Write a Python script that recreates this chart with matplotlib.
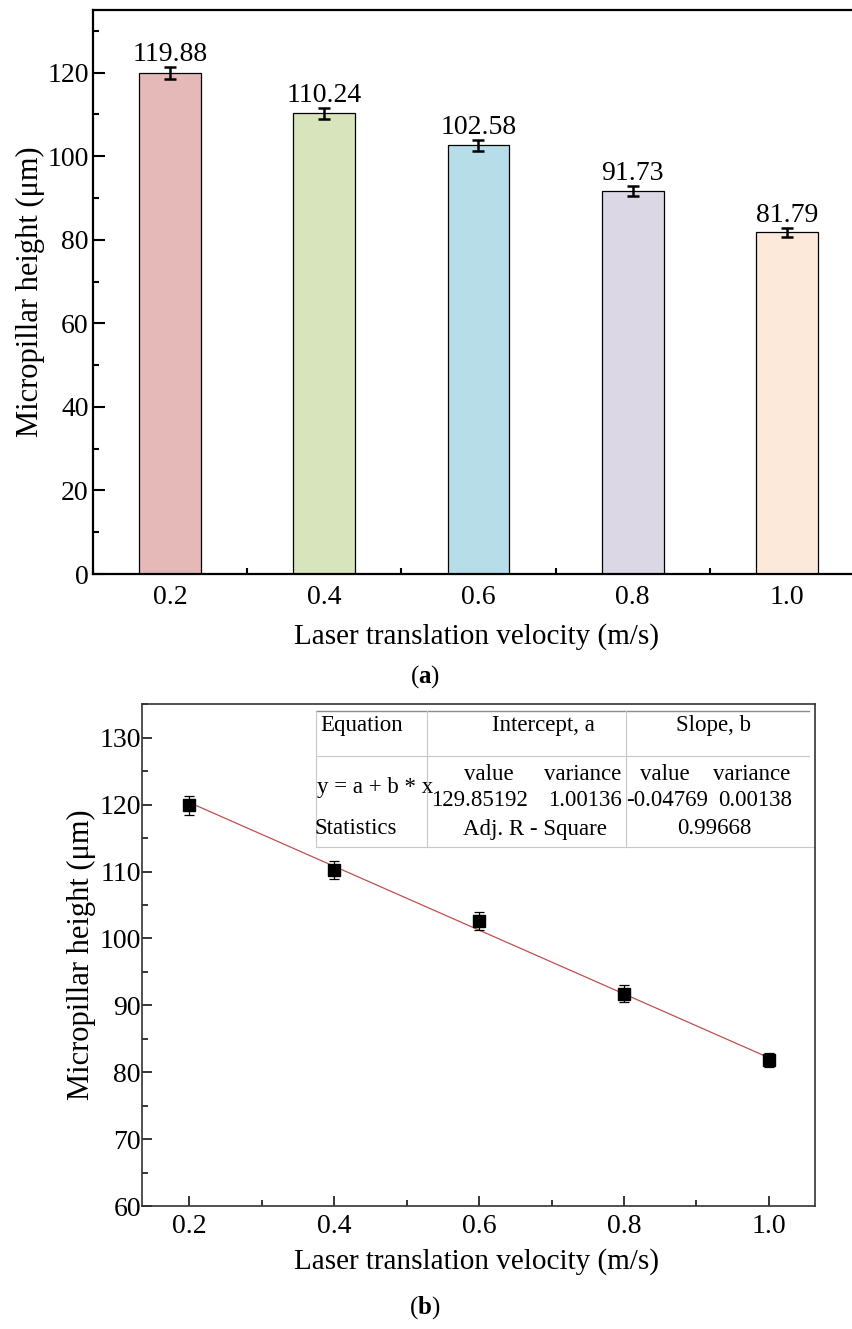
import matplotlib
matplotlib.use("Agg")
import matplotlib.pyplot as plt
import numpy as np
from matplotlib.ticker import MultipleLocator, FormatStrFormatter

plt.rcParams['font.family'] = ['Liberation Serif', 'DejaVu Serif']
plt.rcParams['mathtext.fontset'] = 'custom'
plt.rcParams['mathtext.rm'] = 'Liberation Serif'
plt.rcParams['mathtext.bf'] = 'Liberation Serif:bold'

# ---------------- data ----------------
velocity = [0.2, 0.4, 0.6, 0.8, 1.0]            # m/s
height = [119.88, 110.24, 102.58, 91.73, 81.79]  # um
height_err = [1.4, 1.3, 1.35, 1.25, 1.05]
bar_colors = ['#E5B9B7', '#D8E4BC', '#B7DEE8', '#DCD7E5', '#FCE9DA']

fit_intercept = 129.85192
fit_intercept_var = 1.00136
fit_slope = -0.04769      # per mm/s
fit_slope_var = 0.00138
fit_adj_r2 = 0.99668

fig = plt.figure(figsize=(8.52, 13.29), dpi=100)
W, H = 852, 1329

def axes_px(l, t, r, b):
    return [l / W, 1 - b / H, (r - l) / W, (b - t) / H]

# ---------------- panel (a) ----------------
ax1 = fig.add_axes(axes_px(93, 10, 864, 574))
ax1.bar(velocity, height, width=0.08, color=bar_colors, edgecolor='black',
        linewidth=0.9, zorder=2)
ax1.errorbar(velocity, height, yerr=height_err, fmt='none', ecolor='black',
             elinewidth=1.8, capsize=4, capthick=1.8, zorder=3)
for x, v, e in zip(velocity, height, height_err):
    ax1.annotate(f"{v:.2f}", (x, v + e), xytext=(0, 0), textcoords='offset points',
                 ha='center', va='bottom', fontsize=20)
ax1.set_xlim(0.1, 1.1)
ax1.set_ylim(0, 135)
ax1.xaxis.set_major_locator(MultipleLocator(0.2))
ax1.xaxis.set_minor_locator(MultipleLocator(0.1))
ax1.yaxis.set_major_locator(MultipleLocator(20))
ax1.yaxis.set_minor_locator(MultipleLocator(10))
ax1.set_xticks(velocity)
ax1.xaxis.set_major_formatter(FormatStrFormatter('%.1f'))
ax1.tick_params(axis='both', which='major', direction='in', length=8.5, width=1.5,
                labelsize=20)
ax1.tick_params(axis='both', which='minor', direction='in', length=4, width=1.5)
ax1.tick_params(axis='x', pad=8)
ax1.tick_params(axis='y', pad=3)
for s in ax1.spines.values():
    s.set_linewidth(1.6)
ax1.set_xlabel('Laser translation velocity (m/s)', fontsize=21)
ax1.set_ylabel('Micropillar height (μm)', fontsize=22)
ax1.xaxis.set_label_coords((476 - 93) / (864 - 93), (574 - 637) / 564)
ax1.xaxis.label.set_va('center')
ax1.yaxis.set_label_coords((30 - 93) / (864 - 93), 0.5)
ax1.yaxis.label.set_va('center')

fig.text(425 / W, 1 - 677 / H, r'($\mathbf{a}$)', ha='center', va='center', fontsize=18)

# ---------------- panel (b) ----------------
ax2 = fig.add_axes(axes_px(142.3, 704.3, 815.3, 1206))
xfit = np.array([velocity[0], velocity[-1]])
yfit = fit_intercept + fit_slope * xfit * 1000
ax2.plot(xfit, yfit, color='#C0504D', linewidth=0.9, zorder=2)
ax2.errorbar(velocity, height, yerr=height_err, fmt='s', color='black',
             markersize=8, elinewidth=0.9, capsize=3.5, capthick=0.9, zorder=3)
ax2.set_xlim(0.135, 1.064)
ax2.set_ylim(60, 135)
ax2.xaxis.set_major_locator(MultipleLocator(0.2))
ax2.xaxis.set_minor_locator(MultipleLocator(0.1))
ax2.set_xticks(velocity)
ax2.xaxis.set_major_formatter(FormatStrFormatter('%.1f'))
ax2.yaxis.set_major_locator(MultipleLocator(10))
ax2.yaxis.set_minor_locator(MultipleLocator(5))
ax2.tick_params(axis='both', which='major', direction='in', length=7.5, width=1.1,
                labelsize=20)
ax2.tick_params(axis='both', which='minor', direction='in', length=4, width=1.1)
ax2.tick_params(axis='x', pad=6)
ax2.tick_params(axis='y', pad=1)
for s in ax2.spines.values():
    s.set_linewidth(1.2)
    s.set_color('#333333')
ax2.set_xlabel('Laser translation velocity (m/s)', fontsize=21)
ax2.set_ylabel('Micropillar height (μm)', fontsize=22)
ax2.xaxis.set_label_coords((476 - 142.3) / 673, (1206 - 1262) / 501.7)
ax2.xaxis.label.set_va('center')
ax2.yaxis.set_label_coords((81 - 142.3) / 673, 0.5)
ax2.yaxis.label.set_va('center')

fig.text(425 / W, 1 - 1308 / H, r'($\mathbf{b}$)', ha='center', va='center', fontsize=18)

# fit-result table (axes-fraction coordinates)
def fx(px):
    return (px - 142.3) / 673
def fy(py):
    return (1206 - py) / 501.7

tr = ax2.transAxes
grid_kw = dict(transform=tr, color='#C8C8C8', linewidth=0.8, clip_on=False)
ax2.plot([fx(316), fx(809)], [fy(711), fy(711)], transform=tr, color='#8C8C8C',
         linewidth=1.0, clip_on=False)
ax2.plot([fx(316), fx(809)], [fy(755.7), fy(755.7)], **grid_kw)
ax2.plot([fx(316), fx(815.3)], [fy(846.7), fy(846.7)], **grid_kw)
for xv in (316, 427, 626):
    ax2.plot([fx(xv), fx(xv)], [fy(711), fy(846.7)], **grid_kw)

tfs = 16.5
def ttext(px, py, s, ha='center'):
    ax2.text(fx(px), fy(py), s, transform=tr, ha=ha, va='center', fontsize=tfs)

ttext(362, 725, 'Equation')
ttext(543, 725, 'Intercept, a')
ttext(714, 725, 'Slope, b')
ttext(489, 775, 'value')
ttext(583, 775, 'variance')
ttext(665, 775, 'value')
ttext(752, 775, 'variance')
ttext(317, 788, 'y = a + b * x', ha='left')
ttext(479, 801, f"{fit_intercept:.5f}")
ttext(585, 801, f"{fit_intercept_var:.5f}")
ttext(667, 801, f"{fit_slope:.5f}")
ttext(755, 801, f"{fit_slope_var:.5f}")
ttext(356, 829, 'Statistics')
ttext(535, 829, 'Adj. R - Square')
ttext(714, 829, f"{fit_adj_r2:.5f}")

fig.savefig('out.png', dpi=100)
